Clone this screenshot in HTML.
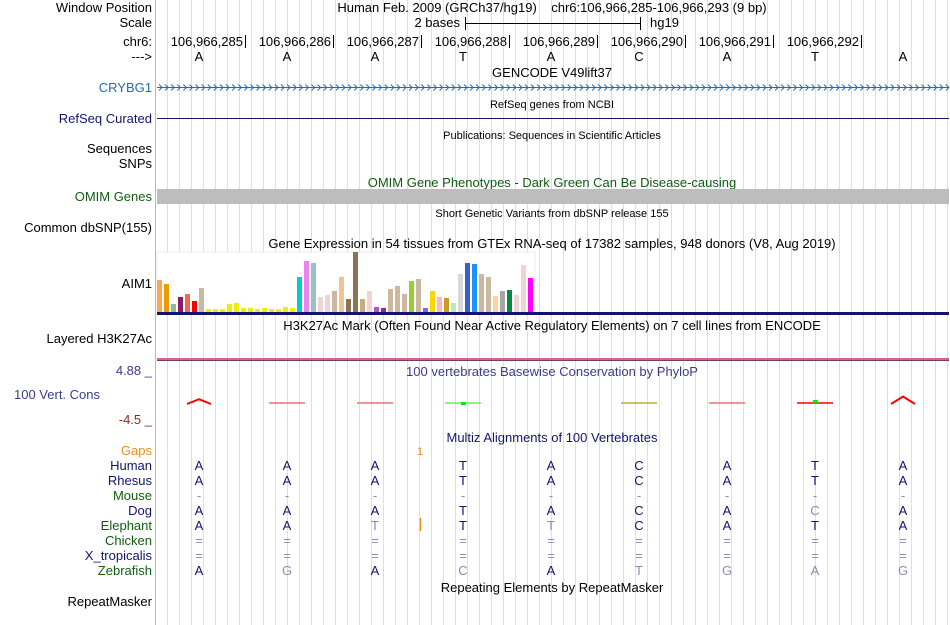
<!DOCTYPE html>
<html><head><meta charset="utf-8"><style>
body{margin:0;background:#fff;width:950px;height:625px;overflow:hidden}
svg{display:block;font-family:"Liberation Sans",sans-serif}
</style></head><body>
<svg id="s" width="950" height="625" xmlns="http://www.w3.org/2000/svg">
<g id="grid"></g>
<line x1="155.5" y1="0" x2="155.5" y2="625" stroke="#f4a0a0"/>
<g font-size="13" text-anchor="end">
<text x="152" y="12" fill="#000">Window Position</text>
<text x="152" y="27" fill="#000">Scale</text>
<text x="152" y="46" fill="#000">chr6:</text>
<text x="152" y="61" fill="#000">---&gt;</text>
<text x="152" y="92" fill="#1f6db5">CRYBG1</text>
<text x="152" y="123" fill="#141470">RefSeq Curated</text>
<text x="152" y="153" fill="#000">Sequences</text>
<text x="152" y="168" fill="#000">SNPs</text>
<text x="152" y="201" fill="#0f5c0f">OMIM Genes</text>
<text x="152" y="232" fill="#000">Common dbSNP(155)</text>
<text x="152" y="288" fill="#000">AIM1</text>
<text x="152" y="343" fill="#000">Layered H3K27Ac</text>
<text x="152" y="375" fill="#3c3c8c">4.88 _</text>
<text x="100" y="399" fill="#3c3c8c">100 Vert. Cons</text>
<text x="152" y="424" fill="#8c2828">-4.5 _</text>
<text x="152" y="455" fill="#e8901a">Gaps</text>
<text x="152" y="470" fill="#141470">Human</text>
<text x="152" y="485" fill="#141470">Rhesus</text>
<text x="152" y="500" fill="#0f5c0f">Mouse</text>
<text x="152" y="515" fill="#141470">Dog</text>
<text x="152" y="530" fill="#0f5c0f">Elephant</text>
<text x="152" y="545" fill="#0f5c0f">Chicken</text>
<text x="152" y="560" fill="#141470">X_tropicalis</text>
<text x="152" y="575" fill="#0f5c0f">Zebrafish</text>
<text x="152" y="606" fill="#000">RepeatMasker</text>
</g>
<g font-size="13" text-anchor="middle" fill="#000">
<text x="552" y="12">Human Feb. 2009 (GRCh37/hg19)&#160;&#160;&#160; chr6:106,966,285-106,966,293 (9 bp)</text>
<text x="552" y="77">GENCODE V49lift37</text>
<text x="552" y="108" font-size="11">RefSeq genes from NCBI</text>
<text x="552" y="139" font-size="11">Publications: Sequences in Scientific Articles</text>
<text x="552" y="187" fill="#0f5c0f">OMIM Gene Phenotypes - Dark Green Can Be Disease-causing</text>
<text x="552" y="217" font-size="11">Short Genetic Variants from dbSNP release 155</text>
<text x="552" y="248">Gene Expression in 54 tissues from GTEx RNA-seq of 17382 samples, 948 donors (V8, Aug 2019)</text>
<text x="552" y="330">H3K27Ac Mark (Often Found Near Active Regulatory Elements) on 7 cell lines from ENCODE</text>
<text x="552" y="376" fill="#3c3c8c">100 vertebrates Basewise Conservation by PhyloP</text>
<text x="552" y="442" fill="#141470">Multiz Alignments of 100 Vertebrates</text>
<text x="552" y="592">Repeating Elements by RepeatMasker</text>
</g>
<g>
<text x="460" y="27" font-size="13" text-anchor="end">2 bases</text>
<line x1="465" y1="23.5" x2="640" y2="23.5" stroke="#000"/>
<line x1="465.5" y1="17" x2="465.5" y2="30" stroke="#000"/>
<line x1="640.5" y1="17" x2="640.5" y2="30" stroke="#000"/>
<text x="650" y="27" font-size="13">hg19</text>
</g>
<g id="ruler"></g>
<g id="bases"></g>
<line x1="157" y1="87.5" x2="949" y2="87.5" stroke="#1f6db5"/>
<g id="chev"></g>
<line x1="157" y1="118.5" x2="949" y2="118.5" stroke="#141470"/>
<rect x="157" y="189" width="792" height="15" fill="#bdbdbd"/>
<g id="gtex">
<rect x="157" y="252" width="378" height="60" fill="#fff" stroke="#eee"/>
</g>
<rect x="157" y="312" width="792" height="3" fill="#141470"/>
<rect x="157" y="358" width="792" height="2" fill="#e06080"/>
<rect x="157" y="360" width="792" height="1" fill="#7a3a6a"/>
<g id="phylop"></g>
<text x="420" y="455" font-size="11" fill="#e8901a" text-anchor="middle">1</text>
<line x1="420.5" y1="518" x2="420.5" y2="531" stroke="#e8901a" stroke-width="1.5"/>
<g id="multiz"></g>
</svg>
<script>
const NS="http://www.w3.org/2000/svg";
const s=id=>document.getElementById(id);
function mk(tag,attrs,parent){const e=document.createElementNS(NS,tag);for(const k in attrs)e.setAttribute(k,attrs[k]);parent.appendChild(e);return e;}
// Data
const positions=["106,966,285","106,966,286","106,966,287","106,966,288","106,966,289","106,966,290","106,966,291","106,966,292"];
const refBases=["A","A","A","T","A","C","A","T","A"];
const gtexValues=[32,28,8,15,18,11,24,3,3,3,8,9,4,4,3,4,3,3,5,4,35,51,49,15,17,21,35,13,60,13,21,5,4,23,26,18,31,33,4,21,15,14,9,38,49,48,38,35,16,21,22,17,47,34];
const gtexColors=["#ffa54f","#ee9a00","#8fbc8f","#8b1c62","#ee6a50","#ff0000","#cdb79e","#eeee00","#eeee00","#eeee00","#eeee00","#eeee00","#eeee00","#eeee00","#eeee00","#eeee00","#eeee00","#eeee00","#eeee00","#eeee00","#00cdcd","#ee82ee","#9ac0cd","#eed5d2","#eed5d2","#cdb79e","#eec591","#8b7355","#8b7355","#cdaa7d","#eed5d2","#b452cd","#7a378b","#cdb79e","#cdb79e","#cdb79e","#9acd32","#cdb79e","#7b68ee","#ffd700","#ffb6c1","#cd9b1d","#b4eeb4","#d9d9d9","#3a5fcd","#1e90ff","#cdb79e","#cdb79e","#ffd39b","#a6a6a6","#008b45","#eed5d2","#eed5d2","#ff00ff"];
const phylopValues=[2.2,-0.3,-0.3,0.4,0,-0.2,-0.3,1.4,3.4];
const species=["Human","Rhesus","Mouse","Dog","Elephant","Chicken","X_tropicalis","Zebrafish"];
const alnHuman=["A","A","A","T","A","C","A","T","A"];
const alnRhesus=["A","A","A","T","A","C","A","T","A"];
const alnMouse=["-","-","-","-","-","-","-","-","-"];
const alnDog=["A","A","A","T","A","C","A","c","A"];
const alnElephant=["A","A","t","T","t","C","A","T","A"];
const alnChicken=["=","=","=","=","=","=","=","=","="];
const alnXtrop=["=","=","=","=","=","=","=","=","="];
const alnZebrafish=["A","g","A","c","A","t","g","a","g"];
const alignments=[alnHuman,alnRhesus,alnMouse,alnDog,alnElephant,alnChicken,alnXtrop,alnZebrafish];
// axes
const baseX=i=>199+i*88;
const gtexX=i=>157+i*7;
const gtexH=v=>v;
const phyY=v=>404-v*2.2;

for(let x=167.5;x<950;x+=12){const l=mk('line',{x1:x,y1:0,x2:x,y2:625,stroke:'#dcdcf4'},s('grid'));

}
positions.forEach((p,i)=>{const tx=baseX(i)+46;
const t=mk('text',{x:tx-2,y:46,'font-size':13,'text-anchor':'end'},s('ruler'));t.textContent=p;


const l=mk('line',{x1:tx+0.5,y1:35,x2:tx+0.5,y2:48,stroke:'#000'},s('ruler'));

});
refBases.forEach((b,i)=>{const t=mk('text',{x:baseX(i),y:61,'font-size':13,'text-anchor':'middle'},s('bases'));t.textContent=b;

});
for(let x=159;x<947;x+=6.1){const p=mk('path',{d:`M${x} 84.5 L${x+3} 87.5 L${x} 90.5`,fill:'none',stroke:'#1f6db5'},s('chev'));

}
gtexValues.forEach((v,i)=>{const r=mk('rect',{x:gtexX(i),y:312-gtexH(v),width:5,height:gtexH(v),fill:gtexColors[i]},s('gtex'));

});
phylopValues.forEach((v,i)=>{if(v===0)return;const x=baseX(i);const c=v>0.8?'#ff0000':(v>0?'#66ee66':(v<-0.25?'#f07070':'#b8b040'));
const g=mk('g',{},s('phylop'));


if(v>1.5){mk('path',{d:`M${x-12} 404 L${x} ${phyY(v)} L${x+12} 404`,fill:'none',stroke:c,'stroke-width':2},g);}
else{mk('rect',{x:x-18,y:402,width:36,height:2,fill:c,'fill-opacity':0.75},g);
if(v>0)mk('rect',{x:x-2,y:phyY(v)-1,width:5,height:3,fill:'#00ee00'},g);}
});
alignments.forEach((row,r)=>{row.forEach((b,i)=>{const light=b!==b.toUpperCase()||b==='-'||b==='=';
const t=mk('text',{x:baseX(i),y:470+r*15,'font-size':13,'text-anchor':'middle',fill:light?'#8a8ab8':'#141470'},s('multiz'));
t.textContent=b.toUpperCase();

});});
</script>
</body></html>
